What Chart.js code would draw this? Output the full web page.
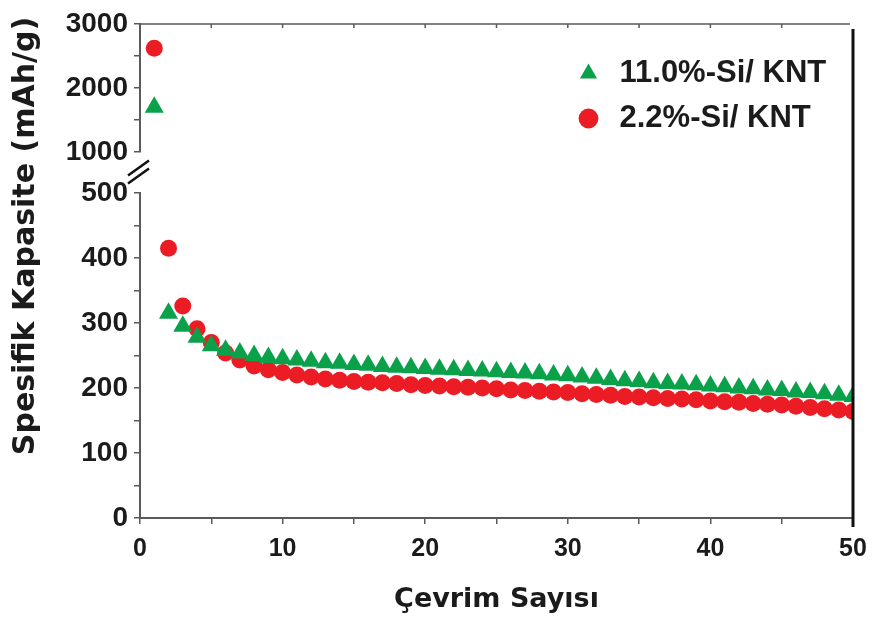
<!DOCTYPE html>
<html>
<head>
<meta charset="utf-8">
<title>Spesifik Kapasite</title>
<script src="https://cdn.jsdelivr.net/npm/chart.js@4.4.1/dist/chart.umd.min.js"></script>
<style>
  html, body { margin: 0; padding: 0; background: #fff; }
</style>
</head>
<body>
<canvas id="capChart" width="874" height="619"></canvas>
<script>
const cycles = [1, 2, 3, 4, 5, 6, 7, 8, 9, 10, 11, 12, 13, 14, 15, 16, 17, 18, 19, 20,
  21, 22, 23, 24, 25, 26, 27, 28, 29, 30, 31, 32, 33, 34, 35, 36, 37, 38, 39, 40,
  41, 42, 43, 44, 45, 46, 47, 48, 49, 50];
// mAh/g per cycle
const si11Values = [1700, 315, 295, 278, 265, 258, 254, 250, 247, 245, 243, 241, 239, 238, 236, 235, 233, 232, 231, 230,
  229, 228, 227, 226, 225, 224, 223, 222, 220, 219, 217, 215, 213, 211, 210, 208, 207, 206, 205, 203,
  202, 200, 199, 197, 196, 194, 193, 191, 189, 187];
const si22Values = [2620, 415, 326, 291, 270, 254, 243, 234, 228, 224, 220, 217, 214, 212, 210, 209, 208, 207, 205, 204,
  203, 202, 201, 200, 199, 197, 196, 195, 194, 193, 191, 190, 189, 187, 186, 185, 184, 183, 182, 180,
  179, 178, 176, 175, 174, 172, 170, 168, 166, 164];
const seriesNames = ["11.0%-Si/ KNT", "2.2%-Si/ KNT"];
const xTickLabels = [0, 10, 20, 30, 40, 50];
const lowTickLabels = [0, 100, 200, 300, 400, 500];
const highTickLabels = [1000, 2000, 3000];
const breakValue = 500;

const green = "#0aa14a";
const red = "#ec1c24";
const axisGray = "#5a5a5a";
const ink = "#1b1b1b";
const tickFont = { family: "'Liberation Sans', Arial, sans-serif", size: 28, weight: "bold" };

// points above the break go on the upper axis segment
function splitPoints(values, upper) {
  return cycles
    .map((c, i) => ({ x: c, y: values[i] }))
    .filter(p => (upper ? p.y > breakValue : p.y <= breakValue));
}

function markDataset(label, values, upper, style, radius, color) {
  return {
    label: label,
    data: splitPoints(values, upper),
    yAxisID: upper ? "yHigh" : "yLow",
    pointStyle: style,
    pointRadius: radius,
    pointHoverRadius: radius,
    backgroundColor: color,
    borderColor: color,
    borderWidth: 0,
    showLine: false
  };
}

const frame = {
  id: "frame",
  afterLayout(chart) {
    // legend sits inside the plot, top right
    const lg = chart.legend;
    const area = chart.chartArea;
    lg.left = 559;
    lg.right = lg.left + lg.width;
    lg.top = area.top + 20;
    lg.bottom = lg.top + lg.height;
  },
  afterDraw(chart) {
    const { ctx, chartArea: a, scales } = chart;
    ctx.save();
    // top edge with short inward ticks
    ctx.strokeStyle = axisGray;
    ctx.lineWidth = 1.5;
    ctx.beginPath();
    ctx.moveTo(a.left, a.top);
    ctx.lineTo(a.right - 3, a.top);
    for (let v = 5; v < 50; v += 5) {
      const px = scales.x.getPixelForValue(v);
      ctx.moveTo(px, a.top);
      ctx.lineTo(px, a.top + 4);
    }
    ctx.stroke();
    // right edge
    ctx.strokeStyle = "#111";
    ctx.lineWidth = 3;
    ctx.beginPath();
    ctx.moveTo(a.right, a.top + 5);
    ctx.lineTo(a.right, a.bottom + 9);
    ctx.stroke();
    // axis break "//"
    const gap = scales.yGap;
    const mid = (gap.top + gap.bottom) / 2;
    ctx.lineWidth = 2.5;
    ctx.beginPath();
    [-4, 4].forEach(off => {
      ctx.moveTo(a.left - 12, mid + off + 7);
      ctx.lineTo(a.left + 9, mid + off - 8);
    });
    ctx.stroke();
    // y axis title spans both segments
    ctx.translate(26, 236);
    ctx.rotate(-Math.PI / 2);
    ctx.fillStyle = ink;
    ctx.font = "bold 30px 'DejaVu Sans', sans-serif";
    ctx.textAlign = "center";
    ctx.textBaseline = "middle";
    ctx.fillText("Spesifik Kapasite (mAh/g)", 0, 0);
    ctx.restore();
  }
};

function yAxis(min, max, step, labels, weight) {
  return {
    type: "linear",
    position: "left",
    stack: "cap",
    stackWeight: weight,
    min: min,
    max: max,
    afterFit: s => { s.width = 140; },
    ticks: {
      stepSize: step,
      autoSkip: false,
      padding: 6,
      color: ink,
      font: tickFont,
      callback: v => (labels.includes(v) ? v : "")
    },
    grid: { drawOnChartArea: false, tickLength: 6, color: axisGray, lineWidth: 1.5 },
    border: { color: axisGray, width: 2 }
  };
}

new Chart("capChart", {
  type: "scatter",
  data: {
    datasets: [
      markDataset(seriesNames[0], si11Values, false, "triangle", 11, green),
      markDataset(seriesNames[0], si11Values, true, "triangle", 11, green),
      markDataset(seriesNames[1], si22Values, false, "circle", 8.5, red),
      markDataset(seriesNames[1], si22Values, true, "circle", 8.5, red)
    ]
  },
  options: {
    responsive: false,
    animation: false,
    layout: { padding: { top: 24, right: 21, left: 0, bottom: 0 } },
    plugins: {
      tooltip: { enabled: false },
      legend: {
        position: "chartArea",
        align: "start",
        labels: {
          usePointStyle: true,
          boxHeight: 14,
          padding: 14,
          color: ink,
          font: { family: "'Liberation Sans', Arial, sans-serif", size: 31, weight: "bold" },
          filter: (item, data) => data.datasets[item.datasetIndex].yAxisID === "yLow"
        }
      }
    },
    scales: {
      x: {
        type: "linear",
        position: "bottom",
        min: 0,
        max: 50,
        afterFit: s => {
          s.height = 101;
          // the last label may hang past the frame
          s.paddingLeft = 0;
          s.paddingRight = 0;
        },
        ticks: {
          stepSize: 5,
          autoSkip: false,
          maxRotation: 0,
          padding: 10,
          color: ink,
          font: { family: "'Liberation Sans', Arial, sans-serif", size: 25, weight: "bold" },
          callback: v => (xTickLabels.includes(v) ? v : "")
        },
        grid: { drawOnChartArea: false, tickLength: 6, color: axisGray, lineWidth: 1.5 },
        border: { color: axisGray, width: 2 },
        title: {
          display: true,
          text: "Çevrim Sayısı",
          color: ink,
          font: { family: "'DejaVu Sans', sans-serif", size: 27, weight: "bold" },
          padding: { top: 0, bottom: 3 }
        }
      },
      yLow: yAxis(0, 500, 50, lowTickLabels, 325),
      yGap: {
        type: "linear",
        position: "left",
        stack: "cap",
        stackWeight: 41,
        afterFit: s => { s.width = 140; },
        ticks: { display: false },
        grid: { display: false },
        border: { display: false }
      },
      yHigh: yAxis(1000, 3000, 500, highTickLabels, 128)
    }
  },
  plugins: [frame]
});
</script>
</body>
</html>
